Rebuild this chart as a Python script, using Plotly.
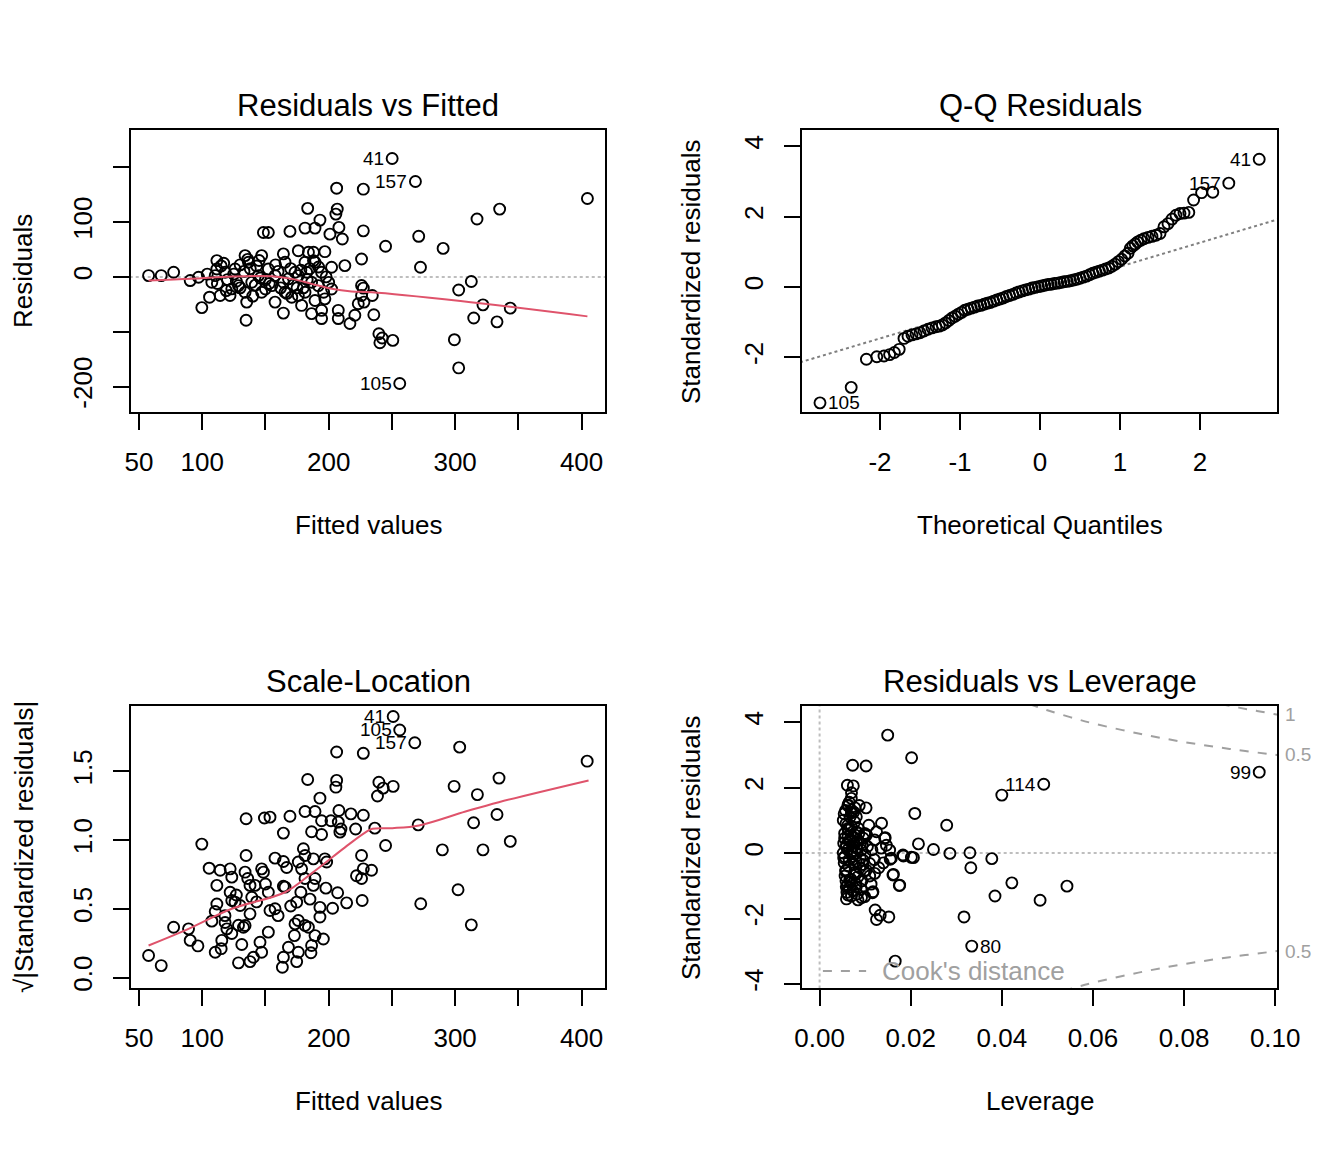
import plotly.graph_objects as go

FONT = "Liberation Sans, Arial, sans-serif"
RED = "#DF536B"
LIGHT = "#BEBEBE"
MID = "#7F7F7F"
COOK = "#A0A0A0"

# ---- Residuals vs Fitted (first three points are the labelled ones) ----
rvf_ids = ["41", "157", "105"]
fitted = [
    250.2, 268.6, 256.2,
    57.6, 67.6, 77.4, 90.5, 97.1, 99.7, 105.8, 111.6, 107.6, 114.2, 122.0, 135.2,
    134.7, 123.4, 133.9, 147.0, 148.4, 152.3, 169.4, 164.2, 165.5, 157.6, 164.2,
    165.5, 176.0, 181.3, 183.4, 189.2, 193.1, 184.0, 188.0, 197.0, 181.3, 189.2,
    202.3, 212.8, 206.3, 206.8, 205.7, 208.1, 210.8, 201.0, 227.4, 227.4, 226.0,
    226.0, 226.0, 223.4, 207.6, 207.6, 216.8, 220.7, 194.4, 194.4, 186.5, 197.0,
    189.2, 178.6, 202.3, 191.8, 176.0, 173.4, 157.6, 152.3, 155.0, 144.5, 139.2,
    136.6, 126.0, 118.1, 111.6, 110.3, 128.7, 133.9, 147.0, 170.8, 176.0, 181.3,
    186.5, 188.0, 194.4, 182.6, 164.2, 168.2, 115.0, 120.0, 125.0, 130.0, 138.0,
    142.0, 145.0, 150.0, 160.0, 162.0, 172.0, 180.0, 185.0, 198.0, 200.0, 130.0,
    140.0, 150.0, 112.0, 117.0, 127.0, 133.0, 143.0, 153.0, 158.0, 167.0, 175.0,
    178.0, 183.0, 192.0, 196.0, 170.0, 146.0, 136.0, 119.0, 104.0,
    404.6, 335.2, 317.3, 271.2, 245.0, 290.5, 272.6, 312.8, 302.8, 322.0, 343.6,
    314.7, 333.1, 299.4, 302.8, 235.7, 239.7, 242.3, 240.5, 250.7, 234.5, 227.9,
    227.4,
]
resid = [
    216, 174, -194.5,
    2.4, 2.4, 8.5, -6.7, -0.6, -56, -37, 29.7, -9.7, -34, -34, -46,
    -79, -21.8, 38.8, 38.8, 81, 81, 83, 42, 26.7, -46, -66,
    -28, 47.8, 89, 125, 89, 103.6, 45, 45, 46, 26.7, 26.7,
    17.6, 20.6, 161.8, 123.6, 114.5, 90.3, 69, 78, 160, 84, 32.7,
    -15.8, -34, -49, -61, -76, -85, -70, -61, -76, -67, -40,
    -43, -52, -22, -16, 2.4, 8.5, 2.4, 14.5, -16, 2.4, -9.7,
    26.7, 14.5, 8.5, 14.5, 2.4, -16, -28, -28, -37, -34, -28,
    -9.7, 29.7, 8.5, 8.5, -9.7, -3.6, 20, -5, 5, 22, 15,
    -15, 30, -5, 10, -20, -15, -20, 15, 0, -10, -20,
    -35, -22, -12, 25, -8, 10, 20, -12, 22, -30, -20,
    12, -5, 18, -28, 15, -2, 32, -25, 5,
    143, 123.6, 105.5, 74, 55.8, 52, 17.6, -8.5, -24, -51, -57,
    -75, -82, -114.5, -166, -69, -103.6, -111.5, -120, -115.8, -34, -46,
    -20.5,
]
rvf_smooth_x = [57.6, 91.8, 123.4, 155.0, 170.8, 186.5, 202.3, 218.1, 233.9, 304.3, 404.6]
rvf_smooth_y = [-6.7, -3.6, 0.6, 1.2, -3.6, -12.7, -21.8, -26.7, -27.9, -44.0, -72.0]

# ---- Normal Q-Q ----
qq_ids = ["105", "157", "41"]
qq_id_index = [0, -2, -1]
qq_theo = [
    -2.75, -2.36, -2.17, -2.04, -1.95, -1.88, -1.82, -1.76, -1.70, -1.65, -1.60,
    -1.55, -1.50, -1.45, -1.40, -1.35, -1.30, -1.26, -1.22, -1.18, -1.14, -1.10,
    -1.06, -1.02, -0.98, -0.94, -0.90, -0.86, -0.82, -0.78, -0.74, -0.70, -0.66,
    -0.62, -0.58, -0.54, -0.50, -0.46, -0.42, -0.38, -0.34, -0.30, -0.26, -0.22,
    -0.18, -0.14, -0.10, -0.06, -0.02, 0.02, 0.06, 0.10, 0.14, 0.18, 0.22,
    0.26, 0.30, 0.34, 0.38, 0.42, 0.46, 0.50, 0.54, 0.58, 0.62, 0.66,
    0.70, 0.74, 0.78, 0.82, 0.86, 0.90, 0.94, 0.98, 1.02, 1.06, 1.10,
    1.13, 1.16, 1.19, 1.22, 1.26, 1.30, 1.35, 1.40, 1.45, 1.50, 1.55,
    1.60, 1.65, 1.70, 1.75, 1.80, 1.86, 1.92, 2.02, 2.16, 2.36, 2.74,
]
qq_std = [
    -3.29, -2.85, -2.05, -1.98, -1.96, -1.92, -1.86, -1.77, -1.46, -1.40, -1.36,
    -1.33, -1.30, -1.25, -1.20, -1.16, -1.13, -1.11, -1.08, -1.02, -0.95, -0.88,
    -0.83, -0.77, -0.72, -0.66, -0.63, -0.60, -0.57, -0.54, -0.52, -0.49, -0.46,
    -0.44, -0.40, -0.37, -0.34, -0.31, -0.27, -0.24, -0.21, -0.17, -0.14, -0.11,
    -0.08, -0.06, -0.03, -0.01, 0.01, 0.03, 0.05, 0.07, 0.08, 0.10, 0.11,
    0.13, 0.15, 0.16, 0.18, 0.20, 0.22, 0.25, 0.28, 0.31, 0.35, 0.39,
    0.42, 0.45, 0.48, 0.51, 0.54, 0.59, 0.65, 0.72, 0.79, 0.88, 0.96,
    1.10, 1.17, 1.22, 1.28, 1.33, 1.37, 1.41, 1.44, 1.47, 1.52, 1.71,
    1.80, 1.93, 2.04, 2.09, 2.10, 2.12, 2.47, 2.68, 2.69, 2.95, 3.63,
]
qq_line_x = [-3.0, 3.0]
qq_line_y = [-2.14, 1.94]

# ---- Scale-Location (first three labelled) ----
sl_ids = ["41", "105", "157"]
sl_fitted = [
    251.0, 256.2, 268.1,
    57.6, 67.6, 77.4, 89.2, 90.5, 96.6, 99.7, 105.5, 111.6, 111.6, 110.3, 107.6,
    110.3, 115.0, 115.5, 114.2, 122.1, 123.4, 122.1, 123.4, 118.1, 119.5, 123.4,
    128.7, 132.6, 131.3, 128.7, 137.8, 140.5, 147.0, 145.7, 134.7, 149.2, 153.6,
    169.4, 164.2, 134.7, 133.9, 137.8, 141.8, 147.0, 148.4, 152.3, 157.6, 153.6,
    152.3, 139.2, 137.8, 133.9, 130.0, 126.0, 157.6, 164.2, 166.8, 164.2, 165.5,
    174.7, 173.4, 176.0, 172.9, 168.2, 164.2, 163.4, 174.7, 176.0, 181.3, 184.0,
    186.5, 186.0, 189.2, 195.8, 193.1, 193.1, 185.2, 187.9, 189.2, 181.3, 178.6,
    176.0, 180.0, 181.3, 187.9, 197.0, 198.4, 197.8, 203.1, 207.1, 214.2, 226.5,
    226.0, 227.4, 233.9, 226.0, 222.0, 221.3, 208.9, 209.7, 207.6, 201.8, 194.4,
    194.4, 186.5, 189.2, 181.3, 208.1, 217.6, 227.4, 193.1, 183.4, 206.3, 205.7,
    206.3, 227.4, 236.5, 245.0, 239.7, 243.1, 238.6, 251.0, 303.6, 404.4, 334.7,
    299.2, 317.6, 333.1, 314.6, 270.8, 343.6, 289.9, 322.0, 302.3, 272.8, 312.8,
    127.0, 143.0, 150.0, 160.0, 170.0, 178.0, 118.0, 136.0,
]
sl_sqrt = [
    1.898, 1.80, 1.707,
    0.16, 0.087, 0.366, 0.354, 0.27, 0.23, 0.97, 0.795, 0.67, 0.535, 0.48, 0.41,
    0.184, 0.21, 0.27, 0.78, 0.79, 0.73, 0.62, 0.56, 0.40, 0.354, 0.32,
    0.38, 0.366, 0.24, 0.107, 0.116, 0.148, 0.184, 0.257, 1.154, 1.16, 1.166,
    1.173, 1.05, 0.887, 0.766, 0.67, 0.67, 0.79, 0.766, 0.62, 0.50, 0.487,
    0.33, 0.584, 0.463, 0.378, 0.524, 0.548, 0.868, 0.844, 0.80, 0.664, 0.657,
    0.548, 0.39, 0.415, 0.305, 0.22, 0.148, 0.075, 0.116, 0.184, 0.378, 0.366,
    0.233, 0.18, 0.305, 0.28, 0.44, 0.51, 0.57, 0.67, 0.72, 0.72, 0.79,
    0.84, 0.936, 0.887, 0.863, 0.863, 0.84, 0.65, 0.504, 0.616, 0.543, 0.56,
    0.887, 0.79, 0.78, 0.72, 0.74, 1.08, 1.057, 1.08, 1.13, 1.14, 1.14,
    1.04, 1.06, 1.207, 1.207, 1.214, 1.19, 1.18, 1.304, 1.44, 1.433, 1.384,
    1.64, 1.63, 1.086, 0.96, 1.42, 1.377, 1.32, 1.39, 1.675, 1.573, 1.45,
    1.39, 1.33, 1.185, 1.125, 1.11, 0.99, 0.928, 0.928, 0.638, 0.536, 0.383,
    0.60, 0.55, 0.68, 0.45, 0.52, 0.62, 0.45, 0.72,
]
sl_smooth_x = [57.6, 89.2, 123.4, 165.5, 186.5, 203.1, 216.2, 229.4, 234.6, 250.4, 271.4,
               308.2, 334.5, 405.5]
sl_smooth_y = [0.233, 0.354, 0.50, 0.62, 0.757, 0.876, 0.97, 1.057, 1.081, 1.086, 1.106,
               1.207, 1.275, 1.433]

# ---- Residuals vs Leverage (first three labelled) ----
lev_ids = ["114", "99", "80"]
leverage = [
    0.0492, 0.0965, 0.0334,
    0.01495, 0.0202, 0.00725, 0.0102, 0.0400, 0.0061, 0.0074, 0.0070, 0.0063,
    0.00776, 0.0102, 0.0070, 0.0209, 0.0136, 0.0279, 0.0063, 0.00996, 0.0144,
    0.0217, 0.0250, 0.0286, 0.0330, 0.0184, 0.0206, 0.0378, 0.0332, 0.0155,
    0.0162, 0.0175, 0.0422, 0.0385, 0.0484, 0.0543, 0.0116, 0.0092, 0.0070,
    0.0122, 0.0133, 0.0125, 0.0152, 0.0317, 0.0166,
    0.00696, 0.00623, 0.00696, 0.00806, 0.00623, 0.00806, 0.00989, 0.01209,
    0.01429, 0.01466, 0.01538, 0.01575, 0.0183, 0.02015, 0.01026, 0.01209,
    0.01611, 0.01758, 0.01172, 0.00989, 0.00843, 0.00623, 0.00586, 0.00659,
    0.00586, 0.0055, 0.00586, 0.00623, 0.00806, 0.00916, 0.00952, 0.01099,
    0.00843, 0.00806,
    0.0052, 0.0053, 0.0054, 0.0055, 0.0056, 0.0058, 0.0060, 0.0062, 0.0064,
    0.0066, 0.0068, 0.0070, 0.0072, 0.0074, 0.0076, 0.0078, 0.0080, 0.0082,
    0.0085, 0.0088, 0.0090, 0.0093, 0.0096, 0.0100, 0.0105, 0.0110, 0.0115,
    0.0120, 0.0125, 0.0130, 0.0052, 0.0057, 0.0065, 0.0059, 0.0067, 0.0073,
    0.0087, 0.0091, 0.0108, 0.0113, 0.0135, 0.0140,
    0.0053, 0.0055, 0.0057, 0.0059, 0.0061, 0.0063, 0.0065, 0.0067, 0.0069,
    0.0071, 0.0073, 0.0075, 0.0077, 0.0079, 0.0081, 0.0083, 0.0086, 0.0089,
    0.0094, 0.0098, 0.0054, 0.0058, 0.0062, 0.0066, 0.0070, 0.0075, 0.0080,
    0.0084, 0.0095, 0.0103,
]
lev_std = [
    2.10, 2.47, -2.84,
    3.60, 2.91, 2.68, 2.66, 1.77, 2.07, 2.05, 1.84, 1.44,
    1.38, 1.38, 1.23, 1.21, 0.91, 0.85, 0.72, 0.57, 0.47,
    0.28, 0.11, -0.01, 0.01, -0.09, -0.14, -0.17, -0.45, -0.19,
    -0.65, -0.99, -0.91, -1.31, -1.44, -1.01, -1.21, -1.36, -1.31,
    -1.74, -1.90, -2.03, -1.95, -1.95, -3.30,
    1.67, 1.47, 1.31, 1.11, 0.75, 0.65, 0.60, 0.40,
    0.45, 0.24, 0.09, -0.16, -0.06, -0.13, -0.52, -0.62,
    -0.67, -0.98, -1.18, -1.33, -1.43, -1.28, -1.03, -0.82,
    -0.52, -0.11, 0.19, 0.50, 0.35, 0.09, -0.21, -0.32,
    -0.72, -1.03,
    0.0, 0.3, -0.3, 0.6, -0.7, 0.9, -1.2, 0.1, -0.4,
    0.4, -0.9, 0.8, -0.1, 0.2, -0.6, 0.55, -0.25, 0.0,
    0.75, -0.45, 0.3, -0.85, 0.45, -0.05, 0.2, -0.7, 0.1,
    -0.2, 0.65, -0.45, 1.0, 1.3, 1.55, -1.4, 1.1, -1.15,
    1.45, -1.1, 0.85, -0.95, 0.15, -0.3,
    -0.15, 0.45, -0.55, 0.25, -1.0, 0.7, -0.2, 0.35, -0.8,
    0.05, 0.5, -0.35, 0.95, -0.65, 0.15, -1.25, 0.6, -0.15,
    0.25, -0.55, 1.2, -0.85, 0.85, -1.05, 0.0, 1.25, -0.95,
    0.4, -0.35, 0.55,
]
cook05_h = [0.046, 0.05, 0.055, 0.06, 0.07, 0.08, 0.09, 0.10, 0.105]
cook05_y = [4.55, 4.36, 4.15, 3.96, 3.65, 3.39, 3.18, 3.00, 2.92]
cook1_h = [0.088, 0.092, 0.096, 0.10, 0.105]
cook1_y = [4.55, 4.44, 4.34, 4.24, 4.13]

# figure is kept inside the page's 8px body margin so nothing gets rescaled
PAD = 8
W, H = 1344 - 2 * PAD, 1152 - 2 * PAD


def px_x(p):
    return (p - PAD) / W


def px_y(p):
    return 1 - (p - PAD) / H


def make_axis(domain, rng, tickvals, ticktext, anchor, standoff, angle=0):
    return dict(
        domain=domain, range=rng, anchor=anchor,
        tickmode="array", tickvals=tickvals, ticktext=ticktext,
        ticks="outside", ticklen=16, tickwidth=2, tickcolor="black",
        showline=True, linecolor="black", linewidth=2, mirror=True,
        showgrid=False, zeroline=False, tickangle=angle,
        ticklabelstandoff=standoff, automargin=False,
        tickfont=dict(family=FONT, size=26, color="black"),
    )


def circles(x, y, xa, ya):
    return go.Scatter(
        x=x, y=y, xaxis=xa, yaxis=ya, mode="markers",
        marker=dict(symbol="circle-open", size=11, color="black",
                    line=dict(width=1.9, color="black")),
        hoverinfo="skip",
    )


def line(x, y, xa, ya, color, dash="solid", width=2, shape="linear"):
    return go.Scatter(
        x=x, y=y, xaxis=xa, yaxis=ya, mode="lines",
        line=dict(color=color, dash=dash, width=width, shape=shape),
        hoverinfo="skip",
    )


fig = go.Figure()

# panel 1
fig.add_trace(line([0, 500], [0, 0], "x", "y", LIGHT, "dot", 2))
fig.add_trace(circles(fitted, resid, "x", "y"))
fig.add_trace(line(rvf_smooth_x, rvf_smooth_y, "x", "y", RED, width=2, shape="spline"))

# panel 2
fig.add_trace(line(qq_line_x, qq_line_y, "x2", "y2", MID, "dot", 2))
fig.add_trace(circles(qq_theo, qq_std, "x2", "y2"))

# panel 3
fig.add_trace(circles(sl_fitted, sl_sqrt, "x3", "y3"))
fig.add_trace(line(sl_smooth_x, sl_smooth_y, "x3", "y3", RED, width=2, shape="spline"))

# panel 4
fig.add_trace(line([-1, 1], [0, 0], "x4", "y4", LIGHT, "dot", 2))
fig.add_trace(line([0, 0], [-10, 10], "x4", "y4", LIGHT, "dot", 2))
fig.add_trace(circles(leverage, lev_std, "x4", "y4"))
fig.add_trace(line(cook05_h, cook05_y, "x4", "y4", COOK, "dash", 2, "spline"))
fig.add_trace(line(cook05_h, [-v for v in cook05_y], "x4", "y4", COOK, "dash", 2, "spline"))
fig.add_trace(line(cook1_h, cook1_y, "x4", "y4", COOK, "dash", 2, "spline"))

dom_left = [px_x(131), px_x(605)]
dom_right = [px_x(802), px_x(1277)]
dom_top = [px_y(412), px_y(130)]
dom_bot = [px_y(988), px_y(706)]

fit_ticks = [50, 100, 150, 200, 250, 300, 350, 400]
fit_text = ["50", "100", "", "200", "", "300", "", "400"]

layout = dict(
    width=W, height=H, autosize=False, margin=dict(l=0, r=0, t=0, b=0, pad=0),
    paper_bgcolor="white", plot_bgcolor="white", showlegend=False,
    font=dict(family=FONT, color="black"),
    xaxis=make_axis(dom_left, [43.7, 418.5], fit_ticks, fit_text, "y", 10),
    yaxis=make_axis(dom_top, [-246.4, 267.9], [-200, -100, 0, 100, 200],
                    ["-200", "", "0", "100", ""], "x", 11, -90),
    xaxis2=make_axis(dom_right, [-2.975, 2.9625], [-2, -1, 0, 1, 2],
                     ["-2", "-1", "0", "1", "2"], "y2", 10),
    yaxis2=make_axis(dom_top, [-3.55, 4.46], [-2, 0, 2, 4],
                     ["-2", "0", "2", "4"], "x2", 11, -90),
    xaxis3=make_axis(dom_left, [43.7, 418.5], fit_ticks, fit_text, "y3", 10),
    yaxis3=make_axis(dom_bot, [-0.076, 1.974], [0, 0.5, 1.0, 1.5],
                     ["0.0", "0.5", "1.0", "1.5"], "x3", 11, -90),
    xaxis4=make_axis(dom_right, [-0.00386, 0.1004], [0, 0.02, 0.04, 0.06, 0.08, 0.10],
                     ["0.00", "0.02", "0.04", "0.06", "0.08", "0.10"], "y4", 10),
    yaxis4=make_axis(dom_bot, [-4.12, 4.49], [-4, -2, 0, 2, 4],
                     ["-4", "-2", "0", "2", "4"], "x4", 11, -90),
)
fig.update_layout(**layout)

ann = []


def text(x, y, s, size=26, angle=0, color="black", xanchor="center"):
    ann.append(dict(x=x, y=y, xref="paper", yref="paper", text=s, showarrow=False,
                    textangle=angle, xanchor=xanchor, yanchor="middle",
                    font=dict(family=FONT, size=size, color=color)))


# titles
text(px_x(368), px_y(105), "Residuals vs Fitted", 31)
text(px_x(1040), px_y(105), "Q-Q Residuals", 31)
text(px_x(368), px_y(681), "Scale-Location", 31)
text(px_x(1040), px_y(681), "Residuals vs Leverage", 31)
# axis titles
text(px_x(368), px_y(525), "Fitted values")
text(px_x(1040), px_y(525), "Theoretical Quantiles")
text(px_x(368), px_y(1101), "Fitted values")
text(px_x(1040), px_y(1101), "Leverage")
text(px_x(23), px_y(271), "Residuals", angle=-90)
text(px_x(691), px_y(271), "Standardized residuals", angle=-90)
text(px_x(24), px_y(847), "√|Standardized residuals|", angle=-90)
text(px_x(691), px_y(847), "Standardized residuals", angle=-90)


def point_label(xa, ya, x, y, s, side):
    ann.append(dict(x=x, y=y, xref=xa, yref=ya, text=s, showarrow=False,
                    xanchor="right" if side == "left" else "left",
                    xshift=-6 if side == "left" else 6, yanchor="middle",
                    font=dict(family=FONT, size=19, color="black")))


for i, s in enumerate(rvf_ids):
    point_label("x", "y", fitted[i], resid[i], s, "left")
for i, s in zip(qq_id_index, qq_ids):
    point_label("x2", "y2", qq_theo[i], qq_std[i], s, "right" if s == "105" else "left")
for i, s in enumerate(sl_ids):
    point_label("x3", "y3", sl_fitted[i], sl_sqrt[i], s, "left")
for i, s in enumerate(lev_ids):
    point_label("x4", "y4", leverage[i], lev_std[i], s, "right" if s == "80" else "left")

# Cook's distance contour labels in the right margin
for lvl, yv in [("1", cook1_y[3]), ("0.5", cook05_y[7]), ("0.5", -cook05_y[7])]:
    ann.append(dict(x=1.012, y=yv, xref="x4 domain", yref="y4", text=lvl, showarrow=False,
                    xanchor="left", yanchor="middle",
                    font=dict(family=FONT, size=19, color=COOK)))

# legend for Cook's distance
ann.append(dict(x=0.164, y=0.06, xref="x4 domain", yref="y4 domain", text="Cook's distance",
                showarrow=False, xanchor="left", yanchor="middle",
                font=dict(family=FONT, size=26, color=COOK)))
fig.add_shape(type="line", xref="x4 domain", yref="y4 domain", x0=0.044, x1=0.135,
              y0=0.06, y1=0.06, line=dict(color=COOK, dash="dash", width=2))

fig.update_layout(annotations=ann)
fig.write_html("out.html")
